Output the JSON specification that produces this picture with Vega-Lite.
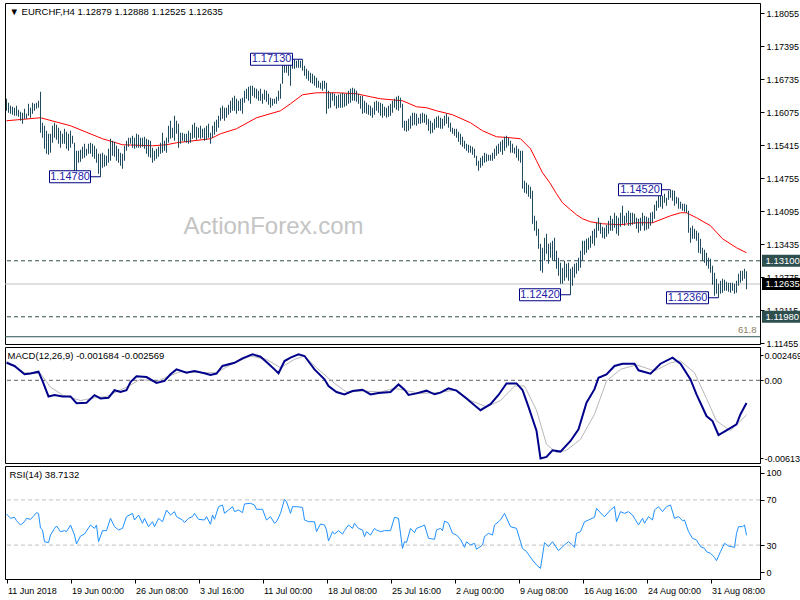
{
"$schema":"https://vega.github.io/schema/vega-lite/v6.json",
"background":"white",
"padding":{"left":2,"top":2,"right":0,"bottom":0},
"spacing":3,
"bounds":"flush",
"config":{
 "view":{"stroke":"black","strokeWidth":1},
 "font":"Liberation Sans",
 "axis":{"labelFont":"Liberation Sans","labelFontSize":9,"labelColor":"black","domainColor":"black","tickColor":"black","tickSize":4,"grid":false,"title":null,"labelPadding":2,"labelOverlap":false},
 "title":{"anchor":"start","font":"Liberation Sans","fontSize":9.5,"fontWeight":"normal","color":"black","offset":-13,"dx":5}
},
"datasets":{
"bars":[{"i":0,"h":1.1634,"l":1.161},{"i":1,"h":1.1626,"l":1.1606},{"i":2,"h":1.162,"l":1.1604},{"i":3,"h":1.1618,"l":1.1602},{"i":4,"h":1.1616,"l":1.16},{"i":5,"h":1.162,"l":1.16},{"i":6,"h":1.1612,"l":1.1598},{"i":7,"h":1.1608,"l":1.159},{"i":8,"h":1.1606,"l":1.1584},{"i":9,"h":1.1614,"l":1.1594},{"i":10,"h":1.1604,"l":1.1594},{"i":11,"h":1.1624,"l":1.16},{"i":12,"h":1.1616,"l":1.1596},{"i":13,"h":1.1626,"l":1.1604},{"i":14,"h":1.1624,"l":1.161},{"i":15,"h":1.1626,"l":1.1614},{"i":16,"h":1.163,"l":1.1616},{"i":17,"h":1.1648,"l":1.1566},{"i":18,"h":1.1586,"l":1.1556},{"i":19,"h":1.158,"l":1.1534},{"i":20,"h":1.157,"l":1.1524},{"i":21,"h":1.1564,"l":1.1522},{"i":22,"h":1.1564,"l":1.1526},{"i":23,"h":1.158,"l":1.1546},{"i":24,"h":1.1586,"l":1.1556},{"i":25,"h":1.1582,"l":1.1552},{"i":26,"h":1.1576,"l":1.1544},{"i":27,"h":1.157,"l":1.1536},{"i":28,"h":1.1564,"l":1.1544},{"i":29,"h":1.1574,"l":1.1544},{"i":30,"h":1.1568,"l":1.1534},{"i":31,"h":1.1564,"l":1.153},{"i":32,"h":1.157,"l":1.1536},{"i":33,"h":1.156,"l":1.1544},{"i":34,"h":1.1546,"l":1.149},{"i":35,"h":1.153,"l":1.1486},{"i":36,"h":1.153,"l":1.1506},{"i":37,"h":1.1532,"l":1.1508},{"i":38,"h":1.1538,"l":1.1514},{"i":39,"h":1.1544,"l":1.1516},{"i":40,"h":1.1534,"l":1.152},{"i":41,"h":1.1544,"l":1.1524},{"i":42,"h":1.1546,"l":1.1524},{"i":43,"h":1.1544,"l":1.1518},{"i":44,"h":1.154,"l":1.1514},{"i":45,"h":1.1534,"l":1.1506},{"i":46,"h":1.1524,"l":1.1484},{"i":47,"h":1.1524,"l":1.1478},{"i":48,"h":1.1526,"l":1.1496},{"i":49,"h":1.1522,"l":1.1498},{"i":50,"h":1.152,"l":1.15},{"i":51,"h":1.1534,"l":1.1506},{"i":52,"h":1.1554,"l":1.151},{"i":53,"h":1.155,"l":1.152},{"i":54,"h":1.1548,"l":1.1518},{"i":55,"h":1.154,"l":1.151},{"i":56,"h":1.1534,"l":1.1506},{"i":57,"h":1.1526,"l":1.15},{"i":58,"h":1.1524,"l":1.1494},{"i":59,"h":1.154,"l":1.151},{"i":60,"h":1.155,"l":1.153},{"i":61,"h":1.1556,"l":1.1538},{"i":62,"h":1.1556,"l":1.1544},{"i":63,"h":1.156,"l":1.1536},{"i":64,"h":1.1556,"l":1.1534},{"i":65,"h":1.1564,"l":1.1536},{"i":66,"h":1.1562,"l":1.1536},{"i":67,"h":1.1556,"l":1.1536},{"i":68,"h":1.1556,"l":1.1538},{"i":69,"h":1.1558,"l":1.1534},{"i":70,"h":1.1554,"l":1.1524},{"i":71,"h":1.1552,"l":1.1518},{"i":72,"h":1.155,"l":1.1516},{"i":73,"h":1.1536,"l":1.1506},{"i":74,"h":1.153,"l":1.151},{"i":75,"h":1.1534,"l":1.1514},{"i":76,"h":1.1538,"l":1.1518},{"i":77,"h":1.1546,"l":1.1524},{"i":78,"h":1.1566,"l":1.1526},{"i":79,"h":1.155,"l":1.153},{"i":80,"h":1.1556,"l":1.1526},{"i":81,"h":1.158,"l":1.1546},{"i":82,"h":1.159,"l":1.1554},{"i":83,"h":1.1576,"l":1.1556},{"i":84,"h":1.16,"l":1.155},{"i":85,"h":1.159,"l":1.1564},{"i":86,"h":1.1584,"l":1.1536},{"i":87,"h":1.1566,"l":1.1544},{"i":88,"h":1.1566,"l":1.155},{"i":89,"h":1.1564,"l":1.1548},{"i":90,"h":1.1564,"l":1.1546},{"i":91,"h":1.157,"l":1.1544},{"i":92,"h":1.1566,"l":1.1546},{"i":93,"h":1.1582,"l":1.1554},{"i":94,"h":1.1586,"l":1.1556},{"i":95,"h":1.1578,"l":1.1552},{"i":96,"h":1.1576,"l":1.1556},{"i":97,"h":1.158,"l":1.1554},{"i":98,"h":1.1574,"l":1.1556},{"i":99,"h":1.1576,"l":1.155},{"i":100,"h":1.158,"l":1.1552},{"i":101,"h":1.1584,"l":1.1556},{"i":102,"h":1.1566,"l":1.1544},{"i":103,"h":1.158,"l":1.1556},{"i":104,"h":1.1588,"l":1.1562},{"i":105,"h":1.1592,"l":1.1568},{"i":106,"h":1.16,"l":1.1576},{"i":107,"h":1.1616,"l":1.159},{"i":108,"h":1.162,"l":1.1594},{"i":109,"h":1.1616,"l":1.159},{"i":110,"h":1.1616,"l":1.1596},{"i":111,"h":1.1622,"l":1.1602},{"i":112,"h":1.163,"l":1.1606},{"i":113,"h":1.1636,"l":1.161},{"i":114,"h":1.164,"l":1.161},{"i":115,"h":1.1634,"l":1.1604},{"i":116,"h":1.163,"l":1.161},{"i":117,"h":1.1634,"l":1.161},{"i":118,"h":1.1636,"l":1.1604},{"i":119,"h":1.165,"l":1.1626},{"i":120,"h":1.1654,"l":1.1634},{"i":121,"h":1.1658,"l":1.163},{"i":122,"h":1.166,"l":1.1624},{"i":123,"h":1.166,"l":1.164},{"i":124,"h":1.1656,"l":1.1636},{"i":125,"h":1.1654,"l":1.1634},{"i":126,"h":1.165,"l":1.163},{"i":127,"h":1.1654,"l":1.163},{"i":128,"h":1.1644,"l":1.1624},{"i":129,"h":1.1652,"l":1.1632},{"i":130,"h":1.165,"l":1.1628},{"i":131,"h":1.1644,"l":1.1622},{"i":132,"h":1.1636,"l":1.1616},{"i":133,"h":1.1634,"l":1.162},{"i":134,"h":1.1634,"l":1.1624},{"i":135,"h":1.1638,"l":1.1624},{"i":136,"h":1.165,"l":1.163},{"i":137,"h":1.1664,"l":1.1634},{"i":138,"h":1.1706,"l":1.1664},{"i":139,"h":1.171,"l":1.1686},{"i":140,"h":1.1708,"l":1.1686},{"i":141,"h":1.1706,"l":1.168},{"i":142,"h":1.1704,"l":1.166},{"i":143,"h":1.1712,"l":1.1694},{"i":144,"h":1.1712,"l":1.1694},{"i":145,"h":1.171,"l":1.1696},{"i":146,"h":1.1712,"l":1.1696},{"i":147,"h":1.171,"l":1.1696},{"i":148,"h":1.1713,"l":1.169},{"i":149,"h":1.17,"l":1.168},{"i":150,"h":1.1694,"l":1.1674},{"i":151,"h":1.169,"l":1.167},{"i":152,"h":1.1686,"l":1.1666},{"i":153,"h":1.1684,"l":1.1664},{"i":154,"h":1.168,"l":1.166},{"i":155,"h":1.1676,"l":1.1656},{"i":156,"h":1.167,"l":1.1656},{"i":157,"h":1.1666,"l":1.1654},{"i":158,"h":1.167,"l":1.165},{"i":159,"h":1.167,"l":1.1654},{"i":160,"h":1.1666,"l":1.1604},{"i":161,"h":1.165,"l":1.1614},{"i":162,"h":1.1646,"l":1.1616},{"i":163,"h":1.1646,"l":1.163},{"i":164,"h":1.1644,"l":1.162},{"i":165,"h":1.164,"l":1.1614},{"i":166,"h":1.1642,"l":1.1616},{"i":167,"h":1.1644,"l":1.1616},{"i":168,"h":1.1646,"l":1.1616},{"i":169,"h":1.1644,"l":1.1618},{"i":170,"h":1.1644,"l":1.162},{"i":171,"h":1.165,"l":1.1624},{"i":172,"h":1.1654,"l":1.1626},{"i":173,"h":1.1656,"l":1.163},{"i":174,"h":1.1654,"l":1.163},{"i":175,"h":1.165,"l":1.1628},{"i":176,"h":1.1644,"l":1.1624},{"i":177,"h":1.164,"l":1.1614},{"i":178,"h":1.164,"l":1.1604},{"i":179,"h":1.163,"l":1.1606},{"i":180,"h":1.1626,"l":1.1604},{"i":181,"h":1.1622,"l":1.1602},{"i":182,"h":1.162,"l":1.16},{"i":183,"h":1.1616,"l":1.1596},{"i":184,"h":1.1628,"l":1.1602},{"i":185,"h":1.163,"l":1.161},{"i":186,"h":1.1628,"l":1.1606},{"i":187,"h":1.1626,"l":1.16},{"i":188,"h":1.1624,"l":1.1596},{"i":189,"h":1.1618,"l":1.16},{"i":190,"h":1.1616,"l":1.1596},{"i":191,"h":1.162,"l":1.1598},{"i":192,"h":1.1624,"l":1.16},{"i":193,"h":1.163,"l":1.1606},{"i":194,"h":1.1634,"l":1.1616},{"i":195,"h":1.1638,"l":1.1612},{"i":196,"h":1.164,"l":1.161},{"i":197,"h":1.1636,"l":1.1616},{"i":198,"h":1.1624,"l":1.1576},{"i":199,"h":1.159,"l":1.157},{"i":200,"h":1.159,"l":1.1568},{"i":201,"h":1.1594,"l":1.157},{"i":202,"h":1.16,"l":1.1574},{"i":203,"h":1.1606,"l":1.158},{"i":204,"h":1.1606,"l":1.1582},{"i":205,"h":1.1604,"l":1.158},{"i":206,"h":1.1596,"l":1.1584},{"i":207,"h":1.1604,"l":1.1584},{"i":208,"h":1.1606,"l":1.1586},{"i":209,"h":1.1604,"l":1.1586},{"i":210,"h":1.1602,"l":1.1582},{"i":211,"h":1.1594,"l":1.157},{"i":212,"h":1.159,"l":1.1564},{"i":213,"h":1.1586,"l":1.1566},{"i":214,"h":1.1594,"l":1.1572},{"i":215,"h":1.1598,"l":1.1576},{"i":216,"h":1.16,"l":1.1576},{"i":217,"h":1.1596,"l":1.1574},{"i":218,"h":1.1594,"l":1.1574},{"i":219,"h":1.16,"l":1.158},{"i":220,"h":1.1604,"l":1.1584},{"i":221,"h":1.1598,"l":1.1576},{"i":222,"h":1.1586,"l":1.1568},{"i":223,"h":1.1576,"l":1.1564},{"i":224,"h":1.1574,"l":1.156},{"i":225,"h":1.1574,"l":1.1556},{"i":226,"h":1.1568,"l":1.1548},{"i":227,"h":1.1564,"l":1.1542},{"i":228,"h":1.1558,"l":1.1538},{"i":229,"h":1.155,"l":1.1534},{"i":230,"h":1.1544,"l":1.153},{"i":231,"h":1.1542,"l":1.1526},{"i":232,"h":1.154,"l":1.1526},{"i":233,"h":1.1538,"l":1.1522},{"i":234,"h":1.1534,"l":1.1516},{"i":235,"h":1.152,"l":1.15},{"i":236,"h":1.151,"l":1.149},{"i":237,"h":1.1516,"l":1.1496},{"i":238,"h":1.152,"l":1.15},{"i":239,"h":1.1526,"l":1.1506},{"i":240,"h":1.1524,"l":1.1508},{"i":241,"h":1.1522,"l":1.151},{"i":242,"h":1.1522,"l":1.151},{"i":243,"h":1.1526,"l":1.151},{"i":244,"h":1.1534,"l":1.1514},{"i":245,"h":1.154,"l":1.152},{"i":246,"h":1.1544,"l":1.1524},{"i":247,"h":1.1548,"l":1.1528},{"i":248,"h":1.1552,"l":1.1522},{"i":249,"h":1.1558,"l":1.153},{"i":250,"h":1.156,"l":1.1536},{"i":251,"h":1.1556,"l":1.154},{"i":252,"h":1.155,"l":1.1526},{"i":253,"h":1.1544,"l":1.1526},{"i":254,"h":1.1536,"l":1.1524},{"i":255,"h":1.154,"l":1.1516},{"i":256,"h":1.1534,"l":1.151},{"i":257,"h":1.153,"l":1.1506},{"i":258,"h":1.153,"l":1.1454},{"i":259,"h":1.147,"l":1.1446},{"i":260,"h":1.1466,"l":1.1444},{"i":261,"h":1.1462,"l":1.1438},{"i":262,"h":1.1458,"l":1.1434},{"i":263,"h":1.145,"l":1.1384},{"i":264,"h":1.14,"l":1.137},{"i":265,"h":1.139,"l":1.136},{"i":266,"h":1.1374,"l":1.1334},{"i":267,"h":1.1344,"l":1.129},{"i":268,"h":1.1336,"l":1.1286},{"i":269,"h":1.1356,"l":1.131},{"i":270,"h":1.1364,"l":1.1324},{"i":271,"h":1.1344,"l":1.1304},{"i":272,"h":1.1346,"l":1.1316},{"i":273,"h":1.135,"l":1.131},{"i":274,"h":1.1356,"l":1.131},{"i":275,"h":1.133,"l":1.1294},{"i":276,"h":1.1316,"l":1.128},{"i":277,"h":1.1306,"l":1.1264},{"i":278,"h":1.1296,"l":1.1264},{"i":279,"h":1.131,"l":1.127},{"i":280,"h":1.1304,"l":1.1276},{"i":281,"h":1.1306,"l":1.127},{"i":282,"h":1.1294,"l":1.1242},{"i":283,"h":1.1298,"l":1.126},{"i":284,"h":1.1304,"l":1.1276},{"i":285,"h":1.1306,"l":1.1284},{"i":286,"h":1.1316,"l":1.129},{"i":287,"h":1.133,"l":1.1296},{"i":288,"h":1.135,"l":1.131},{"i":289,"h":1.135,"l":1.1322},{"i":290,"h":1.1354,"l":1.1326},{"i":291,"h":1.1356,"l":1.1332},{"i":292,"h":1.136,"l":1.1336},{"i":293,"h":1.137,"l":1.1344},{"i":294,"h":1.1374,"l":1.134},{"i":295,"h":1.1386,"l":1.1356},{"i":296,"h":1.1396,"l":1.137},{"i":297,"h":1.1386,"l":1.1364},{"i":298,"h":1.1378,"l":1.1356},{"i":299,"h":1.1376,"l":1.1354},{"i":300,"h":1.1382,"l":1.1358},{"i":301,"h":1.139,"l":1.1364},{"i":302,"h":1.14,"l":1.137},{"i":303,"h":1.1394,"l":1.137},{"i":304,"h":1.1406,"l":1.1376},{"i":305,"h":1.14,"l":1.1364},{"i":306,"h":1.1396,"l":1.136},{"i":307,"h":1.1406,"l":1.1378},{"i":308,"h":1.142,"l":1.1384},{"i":309,"h":1.14,"l":1.138},{"i":310,"h":1.1406,"l":1.1386},{"i":311,"h":1.141,"l":1.138},{"i":312,"h":1.1406,"l":1.138},{"i":313,"h":1.1406,"l":1.1382},{"i":314,"h":1.1404,"l":1.1384},{"i":315,"h":1.1396,"l":1.1374},{"i":316,"h":1.1394,"l":1.1366},{"i":317,"h":1.1396,"l":1.137},{"i":318,"h":1.1406,"l":1.138},{"i":319,"h":1.14,"l":1.137},{"i":320,"h":1.1398,"l":1.1372},{"i":321,"h":1.1396,"l":1.1374},{"i":322,"h":1.1406,"l":1.138},{"i":323,"h":1.1408,"l":1.1386},{"i":324,"h":1.1422,"l":1.1394},{"i":325,"h":1.143,"l":1.141},{"i":326,"h":1.144,"l":1.1416},{"i":327,"h":1.1444,"l":1.1418},{"i":328,"h":1.144,"l":1.1414},{"i":329,"h":1.1444,"l":1.1426},{"i":330,"h":1.1436,"l":1.142},{"i":331,"h":1.145,"l":1.1432},{"i":332,"h":1.1452,"l":1.1436},{"i":333,"h":1.1451,"l":1.143},{"i":334,"h":1.145,"l":1.142},{"i":335,"h":1.1438,"l":1.1424},{"i":336,"h":1.1436,"l":1.1414},{"i":337,"h":1.1428,"l":1.1414},{"i":338,"h":1.1424,"l":1.141},{"i":339,"h":1.1424,"l":1.1408},{"i":340,"h":1.1422,"l":1.1406},{"i":341,"h":1.141,"l":1.1366},{"i":342,"h":1.1376,"l":1.1346},{"i":343,"h":1.138,"l":1.1354},{"i":344,"h":1.1374,"l":1.1354},{"i":345,"h":1.137,"l":1.135},{"i":346,"h":1.1366,"l":1.1326},{"i":347,"h":1.1354,"l":1.1324},{"i":348,"h":1.1336,"l":1.131},{"i":349,"h":1.1332,"l":1.1306},{"i":350,"h":1.1326,"l":1.13},{"i":351,"h":1.1316,"l":1.1294},{"i":352,"h":1.1314,"l":1.1286},{"i":353,"h":1.13,"l":1.1262},{"i":354,"h":1.1286,"l":1.124},{"i":355,"h":1.1274,"l":1.1244},{"i":356,"h":1.1264,"l":1.1236},{"i":357,"h":1.127,"l":1.1244},{"i":358,"h":1.1274,"l":1.1246},{"i":359,"h":1.1272,"l":1.125},{"i":360,"h":1.1268,"l":1.125},{"i":361,"h":1.1266,"l":1.1248},{"i":362,"h":1.1266,"l":1.1246},{"i":363,"h":1.1266,"l":1.125},{"i":364,"h":1.1264,"l":1.1244},{"i":365,"h":1.127,"l":1.1246},{"i":366,"h":1.1284,"l":1.126},{"i":367,"h":1.129,"l":1.1266},{"i":368,"h":1.129,"l":1.127},{"i":369,"h":1.1294,"l":1.1274},{"i":370,"h":1.1289,"l":1.1253}],
"ma":[{"i":0,"p":1.159},{"i":17,"p":1.1596},{"i":32,"p":1.158},{"i":48,"p":1.1554},{"i":58,"p":1.1542},{"i":73,"p":1.154},{"i":80,"p":1.1542},{"i":85,"p":1.1546},{"i":102,"p":1.1554},{"i":107,"p":1.1564},{"i":115,"p":1.1574},{"i":125,"p":1.1596},{"i":137,"p":1.161},{"i":142,"p":1.1624},{"i":148,"p":1.1642},{"i":155,"p":1.1646},{"i":165,"p":1.1646},{"i":175,"p":1.1644},{"i":182,"p":1.1638},{"i":187,"p":1.1634},{"i":198,"p":1.163},{"i":205,"p":1.1618},{"i":210,"p":1.1616},{"i":215,"p":1.161},{"i":223,"p":1.1602},{"i":232,"p":1.1586},{"i":238,"p":1.157},{"i":245,"p":1.1558},{"i":252,"p":1.1556},{"i":257,"p":1.1554},{"i":262,"p":1.1534},{"i":265,"p":1.151},{"i":268,"p":1.1486},{"i":272,"p":1.1464},{"i":275,"p":1.1444},{"i":278,"p":1.1426},{"i":282,"p":1.1412},{"i":285,"p":1.1402},{"i":288,"p":1.1394},{"i":292,"p":1.1388},{"i":298,"p":1.1384},{"i":307,"p":1.1382},{"i":315,"p":1.1386},{"i":323,"p":1.1386},{"i":332,"p":1.14},{"i":337,"p":1.1406},{"i":340,"p":1.1406},{"i":345,"p":1.1396},{"i":352,"p":1.138},{"i":358,"p":1.1354},{"i":365,"p":1.1336},{"i":370,"p":1.1326}],
"macd":[{"i":0,"v":0.0013},{"i":4,"v":0.00106},{"i":9,"v":0.00045},{"i":12,"v":0.0005},{"i":16,"v":0.00064},{"i":18,"v":-0.00005},{"i":21,"v":-0.0012},{"i":24,"v":-0.00109},{"i":28,"v":-0.0012},{"i":32,"v":-0.0012},{"i":35,"v":-0.0017},{"i":40,"v":-0.00166},{"i":44,"v":-0.0011},{"i":47,"v":-0.00135},{"i":51,"v":-0.0013},{"i":54,"v":-0.00074},{"i":57,"v":-0.00087},{"i":60,"v":-0.00074},{"i":62,"v":-0.00013},{"i":65,"v":0.00029},{"i":70,"v":0.00024},{"i":75,"v":-0.0002},{"i":79,"v":-0.00005},{"i":82,"v":0.00045},{"i":85,"v":0.00081},{"i":90,"v":0.00056},{"i":94,"v":0.00069},{"i":99,"v":0.00052},{"i":102,"v":0.00039},{"i":105,"v":0.0005},{"i":108,"v":0.00106},{"i":114,"v":0.0013},{"i":118,"v":0.00163},{"i":123,"v":0.00193},{"i":127,"v":0.00175},{"i":130,"v":0.00136},{"i":134,"v":0.00081},{"i":136,"v":0.00052},{"i":139,"v":0.00143},{"i":142,"v":0.00168},{"i":146,"v":0.00193},{"i":149,"v":0.0018},{"i":154,"v":0.00081},{"i":159,"v":0.00007},{"i":161,"v":-0.00042},{"i":165,"v":-0.00087},{"i":169,"v":-0.00105},{"i":173,"v":-0.0008},{"i":178,"v":-0.0007},{"i":182,"v":-0.00105},{"i":186,"v":-0.00095},{"i":192,"v":-0.00087},{"i":196,"v":-0.00031},{"i":199,"v":-0.0007},{"i":201,"v":-0.00109},{"i":205,"v":-0.00097},{"i":210,"v":-0.00077},{"i":214,"v":-0.00104},{"i":217,"v":-0.00092},{"i":221,"v":-0.0006},{"i":225,"v":-0.00077},{"i":230,"v":-0.00135},{"i":234,"v":-0.00185},{"i":237,"v":-0.00222},{"i":242,"v":-0.00177},{"i":246,"v":-0.00109},{"i":250,"v":-0.00023},{"i":255,"v":-0.00023},{"i":258,"v":-0.00072},{"i":261,"v":-0.00197},{"i":265,"v":-0.00374},{"i":267,"v":-0.0058},{"i":270,"v":-0.00568},{"i":273,"v":-0.00519},{"i":277,"v":-0.00529},{"i":282,"v":-0.0045},{"i":286,"v":-0.00363},{"i":290,"v":-0.00166},{"i":294,"v":-0.00066},{"i":296,"v":0.00019},{"i":300,"v":0.00044},{"i":304,"v":0.00106},{"i":308,"v":0.00123},{"i":314,"v":0.00123},{"i":316,"v":0.00074},{"i":322,"v":0.00049},{"i":327,"v":0.00123},{"i":333,"v":0.00168},{"i":337,"v":0.00123},{"i":342,"v":0.00007},{"i":345,"v":-0.00104},{"i":350,"v":-0.00265},{"i":353,"v":-0.00302},{"i":356,"v":-0.00406},{"i":360,"v":-0.00371},{"i":365,"v":-0.00327},{"i":367,"v":-0.00252},{"i":370,"v":-0.00168}],
"sig":[{"i":0,"v":0.00143},{"i":9,"v":0.00056},{"i":17,"v":0.0005},{"i":22,"v":-0.00051},{"i":28,"v":-0.00109},{"i":37,"v":-0.0015},{"i":44,"v":-0.0013},{"i":50,"v":-0.0012},{"i":60,"v":-0.00051},{"i":67,"v":0.00007},{"i":75,"v":-0.0001},{"i":80,"v":0.00024},{"i":87,"v":0.00064},{"i":99,"v":0.00056},{"i":105,"v":0.00056},{"i":112,"v":0.00115},{"i":122,"v":0.0018},{"i":130,"v":0.00155},{"i":137,"v":0.00093},{"i":144,"v":0.00155},{"i":149,"v":0.0018},{"i":155,"v":0.00093},{"i":164,"v":-0.00023},{"i":170,"v":-0.00087},{"i":179,"v":-0.0008},{"i":187,"v":-0.00087},{"i":194,"v":-0.0006},{"i":201,"v":-0.0008},{"i":207,"v":-0.00097},{"i":215,"v":-0.00092},{"i":225,"v":-0.00072},{"i":232,"v":-0.0015},{"i":240,"v":-0.00197},{"i":247,"v":-0.0015},{"i":254,"v":-0.00042},{"i":259,"v":-0.00042},{"i":265,"v":-0.00222},{"i":270,"v":-0.00475},{"i":275,"v":-0.00537},{"i":280,"v":-0.00519},{"i":287,"v":-0.00438},{"i":294,"v":-0.00252},{"i":300,"v":-0.00005},{"i":307,"v":0.00081},{"i":315,"v":0.00115},{"i":324,"v":0.00069},{"i":332,"v":0.0013},{"i":337,"v":0.00143},{"i":344,"v":0.00056},{"i":350,"v":-0.00135},{"i":355,"v":-0.00302},{"i":362,"v":-0.00374},{"i":370,"v":-0.00257}],
"rsi":[{"i":0,"v":57.5},{"i":2,"v":53.7},{"i":4,"v":54.6},{"i":5,"v":51.6},{"i":7,"v":47.8},{"i":9,"v":50.7},{"i":10,"v":53.7},{"i":12,"v":52.8},{"i":14,"v":56.6},{"i":15,"v":58.7},{"i":16,"v":58},{"i":17,"v":45},{"i":18,"v":43.4},{"i":19,"v":33},{"i":21,"v":32.2},{"i":22,"v":38.9},{"i":24,"v":44.8},{"i":25,"v":46.9},{"i":27,"v":41.9},{"i":29,"v":42.8},{"i":30,"v":41.9},{"i":32,"v":47.8},{"i":34,"v":38.9},{"i":35,"v":31},{"i":37,"v":38},{"i":39,"v":39.8},{"i":42,"v":47.8},{"i":44,"v":44.8},{"i":45,"v":47.8},{"i":46,"v":33},{"i":48,"v":42.8},{"i":50,"v":42.8},{"i":52,"v":53.7},{"i":54,"v":46.3},{"i":56,"v":43.4},{"i":58,"v":44.8},{"i":60,"v":55.2},{"i":63,"v":58.1},{"i":64,"v":52.2},{"i":66,"v":56.6},{"i":68,"v":49.3},{"i":69,"v":53.7},{"i":71,"v":46.3},{"i":73,"v":50.7},{"i":74,"v":46.3},{"i":76,"v":53.7},{"i":78,"v":50.7},{"i":80,"v":61},{"i":82,"v":56.6},{"i":84,"v":59.6},{"i":85,"v":55.2},{"i":88,"v":52.2},{"i":89,"v":49.9},{"i":91,"v":53.7},{"i":93,"v":55.2},{"i":94,"v":58.1},{"i":96,"v":52.8},{"i":99,"v":52.2},{"i":100,"v":55.2},{"i":102,"v":48.4},{"i":103,"v":56.6},{"i":104,"v":52.8},{"i":106,"v":64},{"i":108,"v":65.5},{"i":109,"v":58.1},{"i":111,"v":61.1},{"i":113,"v":64},{"i":114,"v":59.6},{"i":116,"v":61.1},{"i":118,"v":58.7},{"i":119,"v":66.4},{"i":122,"v":67},{"i":124,"v":65.5},{"i":125,"v":61.7},{"i":128,"v":61.7},{"i":130,"v":52.2},{"i":132,"v":55.2},{"i":134,"v":49.3},{"i":135,"v":50.7},{"i":137,"v":58.1},{"i":139,"v":70.5},{"i":140,"v":68.4},{"i":142,"v":58.1},{"i":143,"v":64},{"i":145,"v":64},{"i":148,"v":63.4},{"i":149,"v":52.2},{"i":151,"v":50.7},{"i":154,"v":50.7},{"i":155,"v":41.9},{"i":157,"v":48.7},{"i":159,"v":47.8},{"i":160,"v":43.4},{"i":161,"v":33.6},{"i":163,"v":41.9},{"i":164,"v":39.8},{"i":166,"v":42.8},{"i":168,"v":39.8},{"i":169,"v":42.8},{"i":171,"v":47.8},{"i":173,"v":44.8},{"i":174,"v":49.3},{"i":176,"v":44.8},{"i":178,"v":43.4},{"i":179,"v":37.5},{"i":180,"v":41.9},{"i":182,"v":38.9},{"i":184,"v":44.8},{"i":185,"v":43.4},{"i":187,"v":41.9},{"i":189,"v":42.8},{"i":192,"v":42.8},{"i":194,"v":54.6},{"i":196,"v":53.7},{"i":198,"v":27},{"i":199,"v":33},{"i":200,"v":32.2},{"i":202,"v":44.8},{"i":204,"v":41},{"i":205,"v":44.8},{"i":208,"v":46.9},{"i":209,"v":47.8},{"i":211,"v":36},{"i":214,"v":35.1},{"i":215,"v":43.4},{"i":217,"v":44.8},{"i":218,"v":42.8},{"i":219,"v":51.3},{"i":221,"v":49.3},{"i":223,"v":40.4},{"i":225,"v":38.9},{"i":227,"v":35.1},{"i":229,"v":28},{"i":230,"v":33},{"i":232,"v":30.1},{"i":234,"v":31.6},{"i":235,"v":26.3},{"i":238,"v":30.1},{"i":239,"v":37.5},{"i":241,"v":40.4},{"i":243,"v":38.9},{"i":244,"v":47.8},{"i":247,"v":52.2},{"i":249,"v":58.1},{"i":252,"v":46.3},{"i":255,"v":44.8},{"i":258,"v":27.1},{"i":260,"v":24.2},{"i":263,"v":16.8},{"i":265,"v":12.4},{"i":267,"v":9.4},{"i":269,"v":32.2},{"i":271,"v":28.6},{"i":273,"v":33},{"i":276,"v":25.1},{"i":279,"v":30.1},{"i":281,"v":33},{"i":283,"v":30.1},{"i":284,"v":28},{"i":285,"v":40.4},{"i":287,"v":41.9},{"i":289,"v":50.7},{"i":291,"v":52.2},{"i":294,"v":54.6},{"i":295,"v":62.5},{"i":298,"v":56.6},{"i":299,"v":55.2},{"i":302,"v":61.1},{"i":304,"v":64},{"i":305,"v":50.7},{"i":307,"v":59.6},{"i":309,"v":58.1},{"i":311,"v":59.6},{"i":313,"v":56.6},{"i":314,"v":53.7},{"i":316,"v":47.8},{"i":318,"v":53.7},{"i":319,"v":49.3},{"i":321,"v":55.2},{"i":323,"v":52.2},{"i":324,"v":61.1},{"i":326,"v":64},{"i":328,"v":59.6},{"i":330,"v":64},{"i":332,"v":65.5},{"i":334,"v":53.7},{"i":336,"v":55.2},{"i":338,"v":51.6},{"i":339,"v":52.2},{"i":341,"v":41.9},{"i":343,"v":36},{"i":345,"v":34.5},{"i":347,"v":28.6},{"i":349,"v":27.1},{"i":350,"v":24.2},{"i":352,"v":22.7},{"i":354,"v":19.2},{"i":355,"v":16.2},{"i":357,"v":24.2},{"i":359,"v":31.6},{"i":361,"v":29.2},{"i":364,"v":28},{"i":365,"v":40.4},{"i":366,"v":46.3},{"i":368,"v":46.3},{"i":369,"v":47.8},{"i":370,"v":38.7}],
"notes":[{"t":"1.17130","p":1.1713,"a":122,"b":143,"c":148},{"t":"1.14780","p":1.1478,"a":21.5,"b":42,"c":47},{"t":"1.14520","p":1.1452,"a":306,"b":327.5,"c":332},{"t":"1.12420","p":1.1242,"a":256.5,"b":277,"c":282},{"t":"1.12360","p":1.1236,"a":330,"b":351,"c":356}],
"tags":[{"t":"1.13100","p":1.131,"k":"level"},{"t":"1.12635","p":1.12635,"k":"last"},{"t":"1.11980","p":1.1198,"k":"level"}]
},
"vconcat":[
{
 "width":755,"height":341,
 "title":{"text":"▼ EURCHF,H4  1.12879 1.12888 1.12525 1.12635"},
 "layer":[
  {"data":{"values":[{"t":"ActionForex.com","i":133.5,"p":1.1378}]},
   "mark":{"type":"text","fontSize":24,"color":"#c4c4c4","font":"Liberation Sans","align":"center","baseline":"middle"},
   "encoding":{
    "x":{"field":"i","type":"quantitative","scale":{"domain":[-0.75,376.75],"nice":false,"zero":false},"axis":null},
    "y":{"field":"p","type":"quantitative","scale":{"domain":[1.11435,1.18255],"nice":false,"zero":false},
         "axis":{"orient":"right","values":[1.18055,1.17395,1.16735,1.16075,1.15415,1.14755,1.14095,1.13435,1.12775,1.12115,1.11455],"tickCount":40,"format":".5f","labelOverlap":false}},
    "text":{"field":"t"}}},
  {"data":{"values":[{"p":1.131},{"p":1.1198}]},
   "mark":{"type":"rule","color":"#2f4f4f","strokeDash":[4,3],"strokeWidth":1},
   "encoding":{"y":{"field":"p","type":"quantitative"}}},
  {"data":{"values":[{"p":1.12635}]},
   "mark":{"type":"rule","color":"#c0c0c0","strokeWidth":1},
   "encoding":{"y":{"field":"p","type":"quantitative"}}},
  {"data":{"values":[{"p":1.1158}]},
   "mark":{"type":"rule","color":"#2f4f4f","strokeWidth":1},
   "encoding":{"y":{"field":"p","type":"quantitative"}}},
  {"data":{"values":[{"t":"61.8","i":375,"p":1.1162}]},
   "mark":{"type":"text","align":"right","baseline":"bottom","fontSize":9.5,"color":"#8b7e66"},
   "encoding":{"x":{"field":"i","type":"quantitative"},"y":{"field":"p","type":"quantitative"},"text":{"field":"t"}}},
  {"data":{"name":"ma"},
   "mark":{"type":"line","color":"#ff0000","strokeWidth":1},
   "encoding":{"x":{"field":"i","type":"quantitative"},"y":{"field":"p","type":"quantitative"}}},
  {"data":{"name":"bars"},
   "mark":{"type":"rule","color":"#1e4b5e","strokeWidth":1},
   "encoding":{"x":{"field":"i","type":"quantitative"},"y":{"field":"h","type":"quantitative"},"y2":{"field":"l"}}},
  {"data":{"name":"notes"},
   "mark":{"type":"rule","color":"#000080","strokeWidth":1},
   "encoding":{"x":{"field":"b","type":"quantitative"},"x2":{"field":"c"},"y":{"field":"p","type":"quantitative"}}},
  {"data":{"name":"notes"},
   "transform":[{"calculate":"datum.p+0.0012","as":"p1"},{"calculate":"datum.p-0.0012","as":"p2"}],
   "mark":{"type":"rect","fill":"white","stroke":"#000080","strokeWidth":1},
   "encoding":{"x":{"field":"a","type":"quantitative"},"x2":{"field":"b"},"y":{"field":"p1","type":"quantitative"},"y2":{"field":"p2"}}},
  {"data":{"name":"notes"},
   "transform":[{"calculate":"(datum.a+datum.b)/2","as":"m"}],
   "mark":{"type":"text","fontSize":11,"color":"#1c1ca8","align":"center","baseline":"middle","font":"Liberation Sans"},
   "encoding":{"x":{"field":"m","type":"quantitative"},"y":{"field":"p","type":"quantitative"},"text":{"field":"t"}}},
  {"data":{"name":"tags"},
   "transform":[{"calculate":"datum.p+0.0012","as":"p1"},{"calculate":"datum.p-0.0012","as":"p2"}],
   "mark":{"type":"rect"},
   "encoding":{"x":{"datum":377.75,"type":"quantitative"},"x2":{"datum":398.5},"y":{"field":"p1","type":"quantitative"},"y2":{"field":"p2"},
     "color":{"field":"k","type":"nominal","scale":{"domain":["level","last"],"range":["#2f4f4f","#000000"]},"legend":null}}},
  {"data":{"name":"tags"},
   "mark":{"type":"text","align":"left","baseline":"middle","fontSize":9.5,"color":"white"},
   "encoding":{"x":{"datum":379.5,"type":"quantitative"},"y":{"field":"p","type":"quantitative"},"text":{"field":"t"}}}
 ]
},
{
 "width":755,"height":116,
 "title":{"text":"MACD(12,26,9) -0.001684 -0.002569"},
 "layer":[
  {"data":{"values":[{"v":0}]},
   "mark":{"type":"rule","color":"#606060","strokeDash":[4,3]},
   "encoding":{"y":{"field":"v","type":"quantitative","scale":{"domain":[-0.006136,0.002469],"nice":false,"zero":false},
     "axis":{"orient":"right","values":[0.00187,0,-0.00577],"tickCount":20,"tickSize":3,"labelPadding":1,"labelOverlap":false,"labelExpr":"datum.value > 0.001 ? '0.002469' : (datum.value < -0.001 ? '-0.006136' : '0.00')"}}}},
  {"data":{"name":"sig"},
   "mark":{"type":"line","color":"#b8b8b8","strokeWidth":1},
   "encoding":{"x":{"field":"i","type":"quantitative","scale":{"domain":[-0.75,376.75],"nice":false,"zero":false},"axis":null},"y":{"field":"v","type":"quantitative"}}},
  {"data":{"name":"macd"},
   "mark":{"type":"line","color":"#00008b","strokeWidth":2},
   "encoding":{"x":{"field":"i","type":"quantitative"},"y":{"field":"v","type":"quantitative"}}}
 ]
},
{
 "width":755,"height":113,
 "title":{"text":"RSI(14) 38.7132"},
 "layer":[
  {"data":{"values":[{"v":70},{"v":30}]},
   "mark":{"type":"rule","color":"#c0c0c0","strokeDash":[4,3]},
   "encoding":{"y":{"field":"v","type":"quantitative","scale":{"domain":[0,100],"nice":false,"zero":false},
     "axis":{"orient":"right","values":[94,70,30,6],"tickCount":20,"labelOverlap":false,"labelExpr":"datum.value > 90 ? '100' : (datum.value < 10 ? '0' : datum.label)"}}}},
  {"data":{"name":"rsi"},
   "mark":{"type":"line","color":"#1e90ff","strokeWidth":1},
   "encoding":{"x":{"field":"i","type":"quantitative","scale":{"domain":[-0.75,376.75],"nice":false,"zero":false},
     "axis":{"orient":"bottom","values":[0,32,64,96,128,160,192,224,256,288,320,352],"tickCount":40,"labelAlign":"left","labelBaseline":"top","labelPadding":3,"labelFlush":false,"labelBound":false,"labelOverlap":false,"labelOffset":1,
       "labelExpr":"['11 Jun 2018','19 Jun 00:00','26 Jun 08:00','3 Jul 16:00','11 Jul 00:00','18 Jul 08:00','25 Jul 16:00','2 Aug 00:00','9 Aug 08:00','16 Aug 16:00','24 Aug 00:00','31 Aug 08:00'][round(datum.value/32)]"}},
     "y":{"field":"v","type":"quantitative"}}}
 ]
}
]
}
